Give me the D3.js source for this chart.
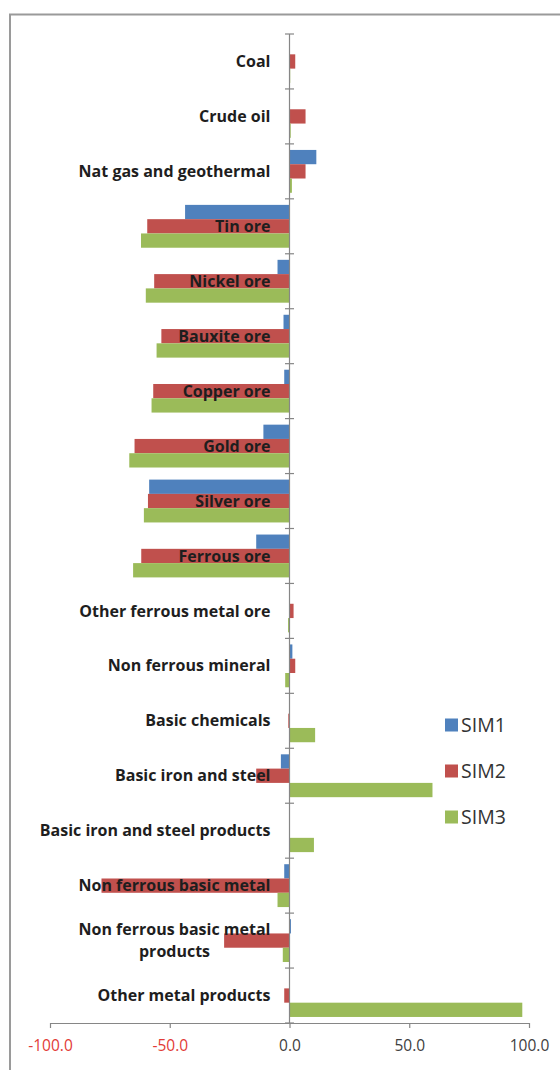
<!DOCTYPE html>
<html>
<head>
<meta charset="utf-8">
<script src="https://cdn.jsdelivr.net/npm/d3@7"></script>
<style>
  html, body { margin: 0; padding: 0; background: #fff; }
  svg { display: block; }
</style>
</head>
<body>
<svg id="chart" width="560" height="1070"></svg>
<script>
const categories = [
  "Coal", "Crude oil", "Nat gas and geothermal", "Tin ore", "Nickel ore",
  "Bauxite ore", "Copper ore", "Gold ore", "Silver ore", "Ferrous ore",
  "Other ferrous metal ore", "Non ferrous mineral", "Basic chemicals",
  "Basic iron and steel", "Basic iron and steel products",
  "Non ferrous basic metal", "Non ferrous basic metal products", "Other metal products"
];
const seriesNames = ["SIM1", "SIM2", "SIM3"];
const sim1 = [0, 0, 11.2, -43.6, -5.0, -2.5, -2.2, -10.9, -58.6, -13.9, 0, 1.2, 0, -3.6, 0, -2.2, 0.6, 0];
const sim2 = [2.4, 6.7, 6.7, -59.4, -56.5, -53.5, -56.9, -64.7, -59.1, -61.9, 1.7, 2.4, -0.5, -13.9, 0, -78.5, -27.3, -2.2];
const sim3 = [0.3, 0.5, 1.0, -62.0, -60.0, -55.5, -57.6, -66.9, -60.8, -65.3, -0.6, -1.8, 10.7, 59.7, 10.2, -5.0, -2.8, 97.2];
const xTicks = [-100, -50, 0, 50, 100];
const colors = ["#4F81BD", "#C0504D", "#9BBB59"];

const seriesValues = [sim1, sim2, sim3];
const svg = d3.select("#chart");

// outer border (chart area frame, cropped on right/bottom)
svg.append("rect")
  .attr("x", 10).attr("y", 14.5)
  .attr("width", 620).attr("height", 1100)
  .attr("fill", "none").attr("stroke", "#9a9a9a").attr("stroke-width", 2);

const x = d3.scaleLinear().domain([-100, 100]).range([50, 529]);
const y = d3.scaleBand().domain(categories).range([34, 1023])
  .paddingInner(0.22).paddingOuter(0.11);
const yInner = d3.scaleBand().domain(seriesNames).range([0, y.bandwidth()]);
const color = d3.scaleOrdinal().domain(seriesNames).range(colors);

// bars
const groups = svg.append("g").selectAll("g")
  .data(categories)
  .join("g")
  .attr("transform", d => `translate(0,${y(d)})`);

groups.selectAll("rect")
  .data((c, i) => seriesNames.map((s, j) => ({ s, v: seriesValues[j][i] })))
  .join("rect")
  .attr("x", d => x(Math.min(0, d.v)))
  .attr("width", d => Math.abs(x(d.v) - x(0)))
  .attr("y", d => yInner(d.s))
  .attr("height", yInner.bandwidth())
  .attr("fill", d => color(d.s));

// x axis
const xAxisY = y.range()[1];
const xAxis = svg.append("g")
  .attr("transform", `translate(0,${xAxisY})`)
  .call(d3.axisBottom(x).tickValues(xTicks).tickSize(5).tickSizeOuter(0).tickFormat(d3.format(".1f")));
xAxis.select(".domain").attr("stroke", "#868686").attr("stroke-width", 1.2);
xAxis.selectAll(".tick line").attr("stroke", "#868686").attr("stroke-width", 1.2);
xAxis.selectAll(".tick text")
  .attr("font-family", "'Open Sans', sans-serif")
  .attr("font-size", 15.5)
  .attr("y", 17)
  .attr("dy", "0.71em")
  .attr("fill", d => d < 0 ? "#E23B37" : "#404040")
  .text(d => d3.format(".1f")(d).replace("−", "-"));

// category axis line at zero
const zx = x(0);
svg.append("line")
  .attr("x1", zx).attr("x2", zx)
  .attr("y1", y.range()[0]).attr("y2", y.range()[1])
  .attr("stroke", "#868686").attr("stroke-width", 1.2);

// category boundary tick marks (cross)
const bounds = d3.range(categories.length + 1).map(i => y.range()[0] + i * y.step());
svg.append("g").selectAll("line")
  .data(bounds)
  .join("line")
  .attr("x1", zx - 4.5).attr("x2", zx + 4.5)
  .attr("y1", d => d).attr("y2", d => d)
  .attr("stroke", "#868686").attr("stroke-width", 1.2);

// category labels
const labelX = zx - 19;
const labels = svg.append("g")
  .attr("font-family", "'Open Sans', sans-serif")
  .attr("font-weight", "bold")
  .attr("font-size", 16)
  .attr("fill", "#1e1e1e");

categories.forEach(c => {
  const cy = y(c) + y.bandwidth() / 2;
  if (c === "Non ferrous basic metal products") {
    const t = labels.append("text").attr("text-anchor", "end")
      .attr("x", labelX).attr("y", cy - 11).attr("dy", "0.35em")
      .text("Non ferrous basic metal");
    const w = t.node().getComputedTextLength();
    labels.append("text").attr("text-anchor", "middle")
      .attr("x", labelX - w / 2).attr("y", cy + 11).attr("dy", "0.35em")
      .text("products");
  } else {
    labels.append("text").attr("text-anchor", "end")
      .attr("x", labelX).attr("y", cy).attr("dy", "0.35em")
      .text(c);
  }
});

// legend
const legendY = d3.scalePoint().domain(seriesNames).range([725, 817]);
const legend = svg.append("g");
seriesNames.forEach(s => {
  legend.append("rect")
    .attr("x", 445).attr("y", legendY(s) - 6.5)
    .attr("width", 13).attr("height", 13)
    .attr("fill", color(s));
  legend.append("text")
    .attr("x", 461).attr("y", legendY(s)).attr("dy", "0.36em")
    .attr("font-family", "'Open Sans', sans-serif")
    .attr("font-size", 19.5)
    .attr("fill", "#333")
    .text(s);
});
</script>
</body>
</html>
